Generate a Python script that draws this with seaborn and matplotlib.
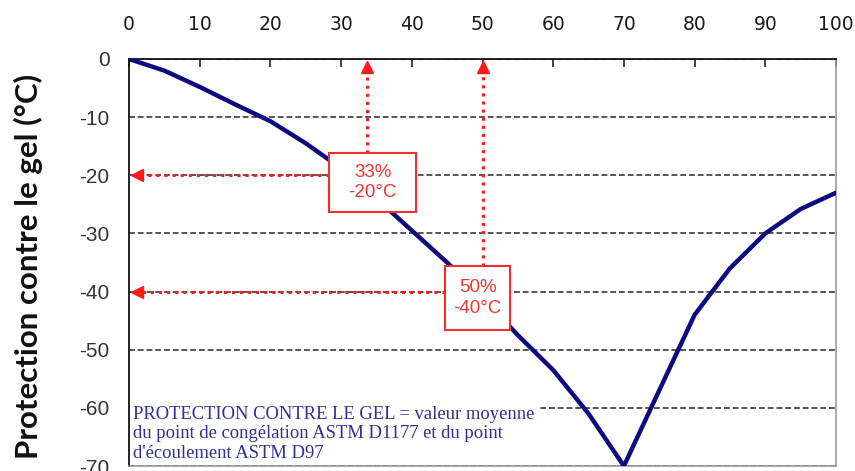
import matplotlib
matplotlib.use("Agg")
import matplotlib.pyplot as plt
import seaborn as sns
import pandas as pd
from matplotlib.patches import Rectangle

# ---- data ----
glycol_pct = [0, 5, 10, 15, 20, 25, 30, 35, 40, 45, 50, 55, 60, 65, 70, 75, 80, 85, 90, 95, 100]
freeze_temp = [0, -2, -4.8, -7.8, -10.7, -14.5, -18.8, -24, -29.5, -35, -41, -47.5, -53.5, -61, -70,
               -57, -44, -36, -30, -25.8, -23]
x_ticks = [0, 10, 20, 30, 40, 50, 60, 70, 80, 90, 100]
y_ticks = [0, -10, -20, -30, -40, -50, -60, -70]
ann_pct = [33.6, 50]
ann_temp = [-20, -40]
ann_labels = ["33%\n-20°C", "50%\n-40°C"]
y_label = "Protection contre le gel (°C)"
note_text = ("PROTECTION CONTRE LE GEL = valeur moyenne\n"
             "du point de congélation ASTM D1177 et du point\n"
             "d'écoulement ASTM D97")

df = pd.DataFrame({"pct": glycol_pct, "temp": freeze_temp})

sns.set_theme(style="white")
plt.rcParams['font.family'] = ['DejaVu Sans']
plt.rcParams['axes.unicode_minus'] = False

fig = plt.figure(figsize=(8.55, 4.71), dpi=100)
ax = fig.add_axes([129 / 855, 1 - 466 / 471, (836 - 129) / 855, (466 - 59) / 471])

sns.lineplot(data=df, x="pct", y="temp", color="#0c0c80", lw=3.2, ax=ax, zorder=3)

ax.set_xlim(0, 100)
ax.set_ylim(-70, 0)
ax.set_xticks(x_ticks)
ax.set_yticks(y_ticks)
ax.xaxis.tick_top()
ax.set_xlabel("")
ax.set_ylabel(y_label, fontfamily="Lato", fontweight="bold", fontsize=22.5, color="#111111")
ax.yaxis.set_label_coords(-0.122, 0.49)

ax.tick_params(axis="x", direction="in", length=6, width=1.2, color="#222222", pad=18,
               labelsize=13.5, labelcolor="#1a1a1a")
ax.tick_params(axis="y", direction="out", length=5, width=1.2, color="#222222", pad=9,
               labelsize=15, labelcolor="#333333")
for lab in ax.get_yticklabels():
    lab.set_fontfamily("Liberation Sans")

ax.yaxis.grid(True, linestyle=(0, (3, 1.5)), color="#555555", lw=1.4)
ax.xaxis.grid(False)
ax.set_axisbelow(True)

for side in ["top", "left"]:
    ax.spines[side].set_color("#111111")
    ax.spines[side].set_linewidth(1.3)
for side in ["right", "bottom"]:
    ax.spines[side].set_color("#999999")
    ax.spines[side].set_linewidth(1.2)

red = "#ff1a1a"
boxes = [(28.3, -26.3, 12.3, 10.1), (44.7, -46.6, 9.2, 11.0)]
for xp, tp, lab, (bx, by, bw, bh) in zip(ann_pct, ann_temp, ann_labels, boxes):
    # vertical dotted arrow up to top axis
    ax.plot([xp, xp], [by + bh, -1.6], linestyle=":", color=red, lw=2.2, zorder=4)
    ax.plot([xp], [-1.3], marker="^", color=red, markersize=9, zorder=5, clip_on=False)
    # horizontal dotted arrow to y axis
    ax.plot([bx, 1.8], [tp, tp], linestyle=":", color=red, lw=2.2, zorder=4)
    ax.plot([1.2], [tp], marker="<", color=red, markersize=9, zorder=5, clip_on=False)
    ax.add_patch(Rectangle((bx, by), bw, bh, facecolor="white", edgecolor="#f03030", lw=1.5, zorder=6))
    ax.text(bx + bw / 2, by + bh / 2, lab, ha="center", va="center", color="#ee3535",
            fontfamily="Liberation Sans", fontsize=13.5, linespacing=1.25, zorder=7)

ax.text(0.6, -59.6, note_text, ha="left", va="top", color="#2e3192",
        fontfamily="Liberation Serif", fontsize=13.4, linespacing=1.2, zorder=6,
        bbox=dict(facecolor="white", edgecolor="none", pad=2.5))

fig.savefig("out.png", dpi=100)
